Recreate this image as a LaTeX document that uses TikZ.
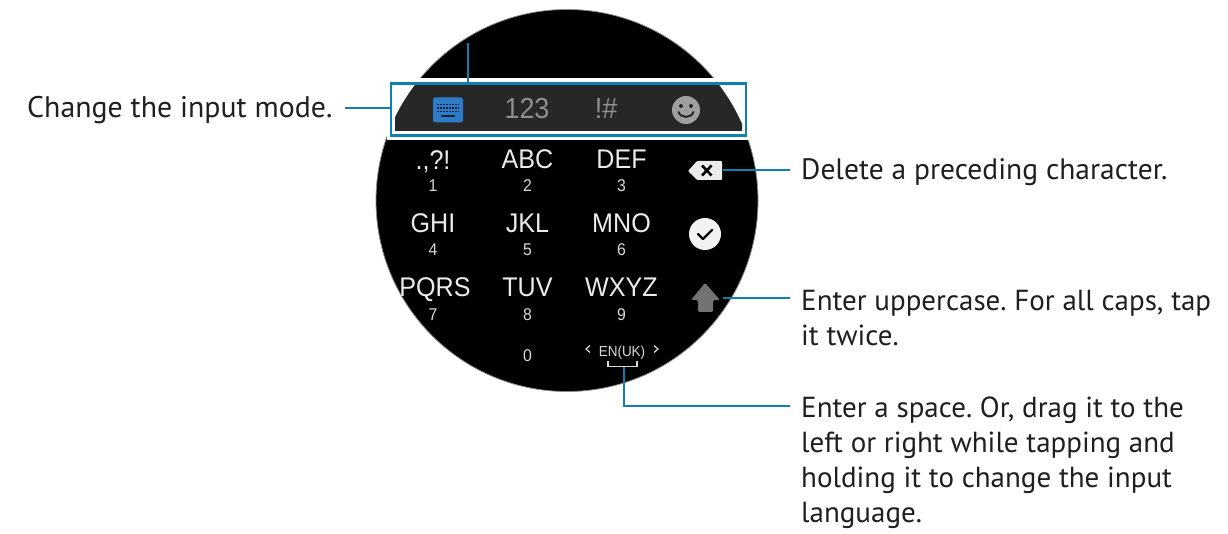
\documentclass[tikz,border=0pt]{standalone}
\usepackage{fontspec}
\setmainfont{PT Sans}
\newfontfamily\keyf[FakeStretch=0.93]{Liberation Sans}
\frenchspacing
\definecolor{callout}{HTML}{0F7FAF}
\definecolor{strip}{HTML}{272727}
\definecolor{keyblue}{HTML}{2E7CC8}
\definecolor{modegray}{HTML}{8E8E8E}
\tikzset{
  x=1pt,y=-1pt,
  lead/.style={draw=callout,line width=2.8pt},
  note/.style={anchor=base west,inner sep=0pt,font=\fontsize{29.5}{35}\selectfont,text=black!88},
  notetight/.style={note,font=\fontsize{29}{35}\selectfont},
  bigkey/.style={anchor=base,inner sep=0pt,font=\keyf\fontsize{27}{27}\selectfont,text=white!92!black},
  smallkey/.style={anchor=base,inner sep=0pt,font=\keyf\fontsize{17}{17}\selectfont,text=white!85!black},
  modekey/.style={anchor=base,inner sep=0pt,font=\keyf\fontsize{29}{29}\selectfont,text=modegray},
}
\begin{document}
\begin{tikzpicture}
\useasboundingbox (0,0) rectangle (1228,534);
\fill[white] (0,0) rectangle (1228,534);
% watch face
\fill[black] (567,200.5) circle (191);
\draw[black!45,line width=0.8pt] (567,200.5) circle (191);
\fill[white] (386.5,78) rectangle (751,140);
\begin{scope}
  \clip (395,86) rectangle (742,131);
  \fill[strip] (567,200.5) circle (191);
\end{scope}
\draw[lead] (391,83.5) rectangle (746,135.5);
\coordinate (modeL) at (391,108);
\coordinate (stubT) at (468,43);
\coordinate (stubB) at (468,83);
\draw[lead] (stubT) -- (stubB);
% mode row
\node[rounded corners=2.5pt,fill=keyblue,minimum width=30pt,minimum height=25pt,inner sep=0pt] (kbd) at (448,110) {};
\foreach \yy in {104.5,108,111.5}
  \draw[black!70!keyblue,line width=1.4pt,dash pattern=on 1.6pt off 1.4pt] (437,\yy) -- (458.5,\yy);
\draw[black!70!keyblue,line width=2pt] (441,116.5) -- (455,116.5);
\node[modekey] (m123) at (527,119) {123};
\node[modekey] (mbang) at (606,119) {!\#};
\fill[modegray!85!white] (686,110) circle (14);
\node[inner sep=0pt] (smile) at (686,110) {};
\fill[strip] (681,106) circle (2) (691,106) circle (2);
\draw[strip,line width=2pt,line cap=round] (678.5,112) .. controls (681,118.5) and (691,118.5) .. (693.5,112);
% keys
\node[bigkey] (k1) at (433,170) {.,?!};
\node[smallkey] (n1) at (433,192) {1};
\node[bigkey] (k2) at (527.5,169) {ABC};
\node[smallkey] (n2) at (527.5,192) {2};
\node[bigkey] (k3) at (621.5,169) {DEF};
\node[smallkey] (n3) at (621.5,192) {3};
\node[bigkey] (k4) at (433,233) {GHI};
\node[smallkey] (n4) at (433,256) {4};
\node[bigkey] (k5) at (527.5,233) {JKL};
\node[smallkey] (n5) at (527.5,256) {5};
\node[bigkey] (k6) at (621.5,233) {MNO};
\node[smallkey] (n6) at (621.5,256) {6};
\node[bigkey] (k7) at (435,297) {PQRS};
\node[smallkey] (n7) at (433,320) {7};
\node[bigkey] (k8) at (527.5,297) {TUV};
\node[smallkey] (n8) at (527.5,320) {8};
\node[bigkey] (k9) at (621.5,297) {WXYZ};
\node[smallkey] (n9) at (621.5,320) {9};
\node[smallkey] (n0) at (527.5,361) {0};
\node[anchor=base,inner sep=0pt,font=\keyf\fontsize{14.5}{14.5}\selectfont,text=white!85!black] (lang) at (622,356) {EN(UK)};
\draw[white!85!black,line width=1.2pt] (590,345.5) -- (586,349) -- (590,352.5);
\draw[white!85!black,line width=1.2pt] (654,345.5) -- (658,349) -- (654,352.5);
\draw[white!85!black,line width=1.4pt] (608,361) -- (608,366.5) -- (637,366.5) -- (637,361);
\coordinate (spaceB) at (624,367);
% delete
\fill[white!92!black,rounded corners=1pt] (688,171) -- (697,161) -- (722,161) -- (722,180) -- (697,180) -- cycle;
\draw[black,line width=2.6pt] (702,165.5) -- (711.5,175.5) (711.5,165.5) -- (702,175.5);
\coordinate (delR) at (723,170);
% done
\fill[white!95!black] (705,234) circle (16);
\node[inner sep=0pt] (done) at (705,234) {};
\draw[black,line width=2.4pt,line cap=round,line join=round] (698,234) -- (703,239) -- (712,230);
% shift
\fill[black!55,rounded corners=1.5pt] (691,300) -- (705,283) -- (720,300) -- (713,300) -- (713,312) -- (698,312) -- (698,300) -- cycle;
\coordinate (shiftR) at (723,298);
% callouts
\node[note,font=\fontsize{29.8}{35}\selectfont] (tmode) at (27,118) {Change the input mode.};
\coordinate (tmodeE) at (345,108);
\draw[lead] (tmodeE) -- (modeL);
\node[note] (tdel) at (801,180) {Delete a preceding character.};
\coordinate (tdelS) at (790,170);
\draw[lead] (delR) -- (tdelS);
\node[notetight] (tcap1) at (801,311) {Enter uppercase. For all caps, tap};
\node[notetight] (tcap2) at (801,345) {it twice.};
\coordinate (tcapS) at (790,298);
\draw[lead] (shiftR) -- (tcapS);
\node[notetight] (tsp1) at (801,417) {Enter a space. Or, drag it to the};
\node[notetight] (tsp2) at (801,452) {left or right while tapping and};
\node[notetight] (tsp3) at (801,487) {holding it to change the input};
\node[notetight] (tsp4) at (801,522) {language.};
\coordinate (tspS) at (790,406);
\draw[lead] (spaceB) |- (tspS);
\end{tikzpicture}
\end{document}
